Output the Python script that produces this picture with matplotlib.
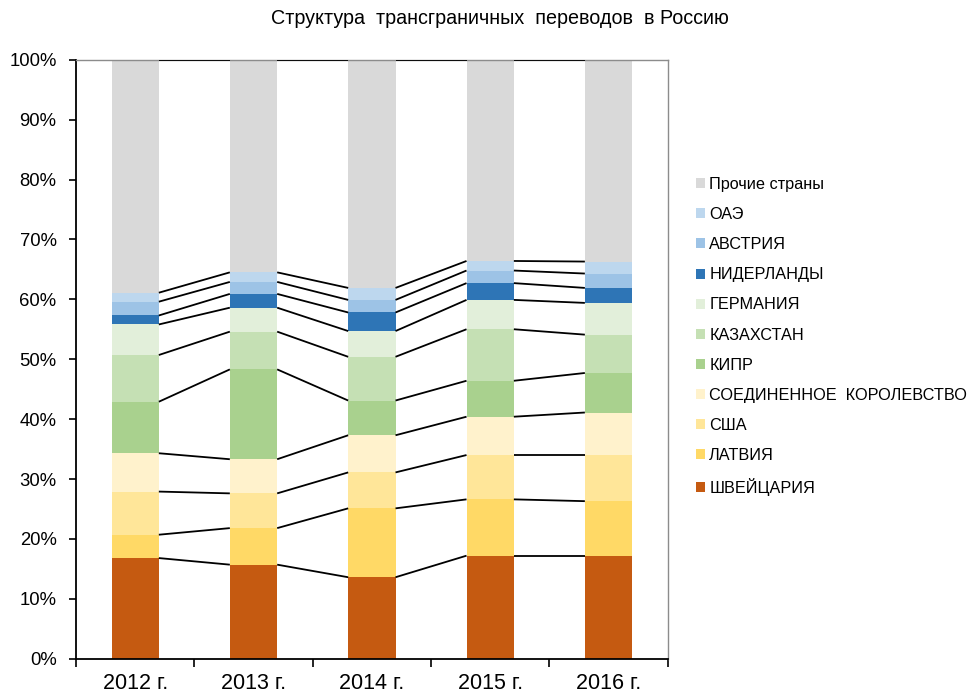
import matplotlib
matplotlib.use("Agg")
import matplotlib.pyplot as plt
import numpy as np
from matplotlib.patches import Patch

plt.rcParams['font.family'] = ['Liberation Sans', 'DejaVu Sans']

years = ["2012 г.", "2013 г.", "2014 г.", "2015 г.", "2016 г."]
series_names = ["ШВЕЙЦАРИЯ", "ЛАТВИЯ", "США", "СОЕДИНЕННОЕ  КОРОЛЕВСТВО", "КИПР",
                "КАЗАХСТАН", "ГЕРМАНИЯ", "НИДЕРЛАНДЫ", "АВСТРИЯ", "ОАЭ", "Прочие страны"]
switzerland = [16.8, 15.7, 13.6, 17.2, 17.2]
latvia      = [3.9, 6.1, 11.5, 9.4, 9.1]
usa         = [7.2, 5.8, 6.0, 7.4, 7.7]
uk          = [6.4, 5.7, 6.2, 6.4, 7.1]
cyprus      = [8.6, 15.0, 5.8, 6.0, 6.6]
kazakhstan  = [7.8, 6.3, 7.3, 8.6, 6.4]
germany     = [5.1, 4.0, 4.3, 4.9, 5.3]
netherlands = [1.5, 2.3, 3.1, 2.8, 2.5]
austria     = [2.3, 2.0, 2.1, 2.1, 2.4]
uae         = [1.5, 1.6, 2.0, 1.6, 2.0]
others      = [38.9, 35.5, 38.1, 33.6, 33.7]

colors = ["#C55A11", "#FFD966", "#FFE699", "#FFF2CC", "#A9D18E",
          "#C5E0B4", "#E2EFDA", "#2E75B6", "#9DC3E6", "#BDD7EE", "#D9D9D9"]

data = [switzerland, latvia, usa, uk, cyprus, kazakhstan, germany,
        netherlands, austria, uae, others]

fig = plt.figure(figsize=(9.68, 6.93), dpi=100)
ax = fig.add_axes([76/968, 1 - 658.7/693, (667.7-76)/968, (658.7-59.7)/693])

x = np.arange(len(years))
w = 0.40
bottom = np.zeros(len(years))
for vals, c in zip(data, colors):
    v = np.array(vals)
    ax.bar(x, v, w, bottom=bottom, color=c, linewidth=0, zorder=2)
    bottom = bottom + v
    for i in range(len(years) - 1):
        ax.plot([x[i] + w/2, x[i+1] - w/2], [bottom[i], bottom[i+1]],
                color='black', lw=1.3, zorder=3, solid_capstyle='butt')

ax.set_xlim(-0.5, len(years) - 0.5)
ax.set_ylim(0, 100)
ax.set_yticks(np.arange(0, 101, 10))
ax.set_yticklabels([f"{t}%" for t in range(0, 101, 10)], fontsize=13.3)
ax.set_xticks(x)
ax.set_xticklabels(years, fontsize=15.5)
ax.set_xticks(np.arange(-0.5, len(years), 1), minor=True)
ax.tick_params(axis='x', which='major', length=0, pad=10)
ax.tick_params(axis='x', which='minor', length=6, width=1.2, direction='out')
ax.tick_params(axis='y', length=5, width=1.2, direction='out', pad=9)

for s in ['left', 'bottom']:
    ax.spines[s].set_color('black')
    ax.spines[s].set_linewidth(1.3)
for s in ['top', 'right']:
    ax.spines[s].set_color('#8c8c8c')
    ax.spines[s].set_linewidth(1.0)

fig.text(0.5*(272+728)/968, 1 - 18/693, "Структура  трансграничных  переводов  в Россию",
         ha='center', va='center', fontsize=14.2)

handles = [Patch(facecolor=c, edgecolor='none') for c in colors][::-1]
labels = series_names[::-1]
leg = fig.legend(handles, labels, loc='upper left', bbox_to_anchor=(696/968, 1 - 177/693),
                 frameon=False, fontsize=11.7, handlelength=0.57, handleheight=0.57,
                 handletextpad=0.25, labelspacing=0.93, borderaxespad=0, borderpad=0)

fig.savefig("out.png", dpi=100)
